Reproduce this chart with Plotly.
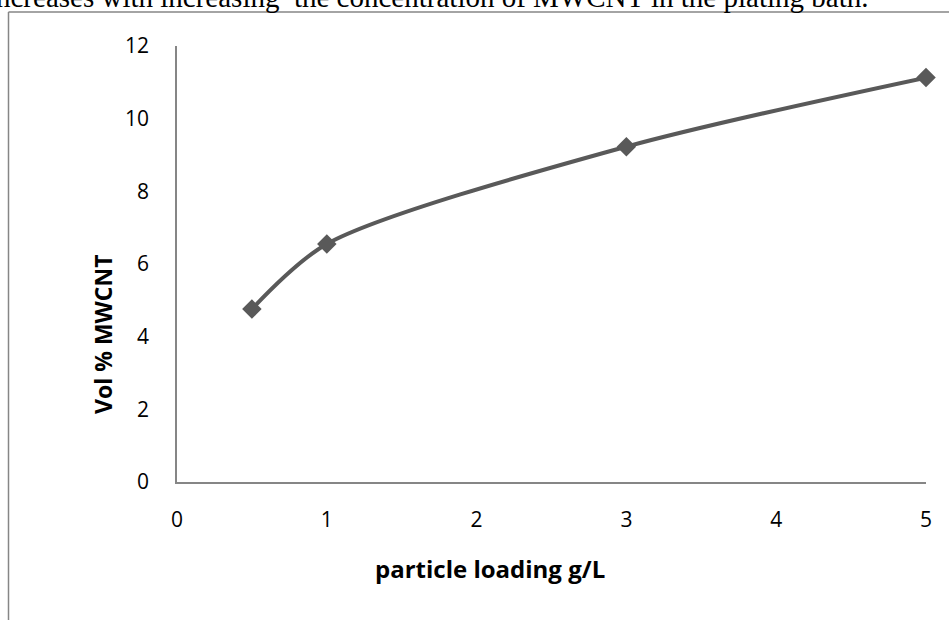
import plotly.graph_objects as go

W, H = 949, 620

particle_loading = [0.5, 1, 3, 5]
vol_pct_mwcnt = [4.76, 6.55, 9.23, 11.13]
x_ticks = [0, 1, 2, 3, 4, 5]
y_ticks = [0, 2, 4, 6, 8, 10, 12]

caption = "ncreases with increasing  the concentration of MWCNT in the plating bath."
x_title = "particle loading g/L"
y_title = "Vol % MWCNT"

line_col = "#595959"
axis_col = "#868686"
font_fam = "Open Sans"

def px(x):
    return x / W

def py(y):
    return 1 - y / H

fig = go.Figure()
fig.add_trace(go.Scatter(
    x=particle_loading, y=vol_pct_mwcnt, mode="lines+markers",
    line=dict(color=line_col, width=4, shape="spline", smoothing=0.8),
    marker=dict(symbol="diamond", size=15, color=line_col),
    showlegend=False, cliponaxis=False,
))

fig.update_layout(
    template="none",
    width=W, height=H,
    margin=dict(l=0, r=0, t=0, b=0, pad=0, autoexpand=False),
    paper_bgcolor="white", plot_bgcolor="white",
    xaxis=dict(
        domain=[px(177), px(926)], range=[0, 5], tickvals=x_ticks, automargin=False,
        showgrid=False, zeroline=False, showline=True, linecolor=axis_col, linewidth=1.5,
        ticks="", ticklabelstandoff=18,
        tickfont=dict(family=font_fam, size=21, color="black"),
    ),
    yaxis=dict(
        domain=[py(482), py(46)], range=[0, 12], tickvals=y_ticks, automargin=False,
        showgrid=False, zeroline=False, showline=True, linecolor=axis_col, linewidth=1.5,
        ticks="", ticklabelstandoff=22,
        tickfont=dict(family=font_fam, size=21, color="black"),
    ),
    shapes=[
        dict(type="line", xref="paper", yref="paper", x0=px(8.5), x1=px(8.5), y0=py(640), y1=py(12),
             line=dict(color=axis_col, width=1.5)),
        dict(type="line", xref="paper", yref="paper", x0=px(8.5), x1=px(960), y0=py(12), y1=py(12),
             line=dict(color=axis_col, width=1.5)),
    ],
    annotations=[
        dict(text=caption, xref="paper", yref="paper", x=px(-6), y=py(-3.5), xanchor="left", yanchor="middle",
             showarrow=False, font=dict(family="Liberation Serif", size=29, color="black")),
        dict(text="<b>%s</b>" % x_title, xref="paper", yref="paper", x=px(490), y=py(568),
             xanchor="center", yanchor="middle", showarrow=False,
             font=dict(family=font_fam, size=24, color="black")),
        dict(text="<b>%s</b>" % y_title, xref="paper", yref="paper", x=px(103), y=py(335),
             xanchor="center", yanchor="middle", textangle=-90, showarrow=False,
             font=dict(family=font_fam, size=23, color="black")),
    ],
)

fig.write_html("out.html")
